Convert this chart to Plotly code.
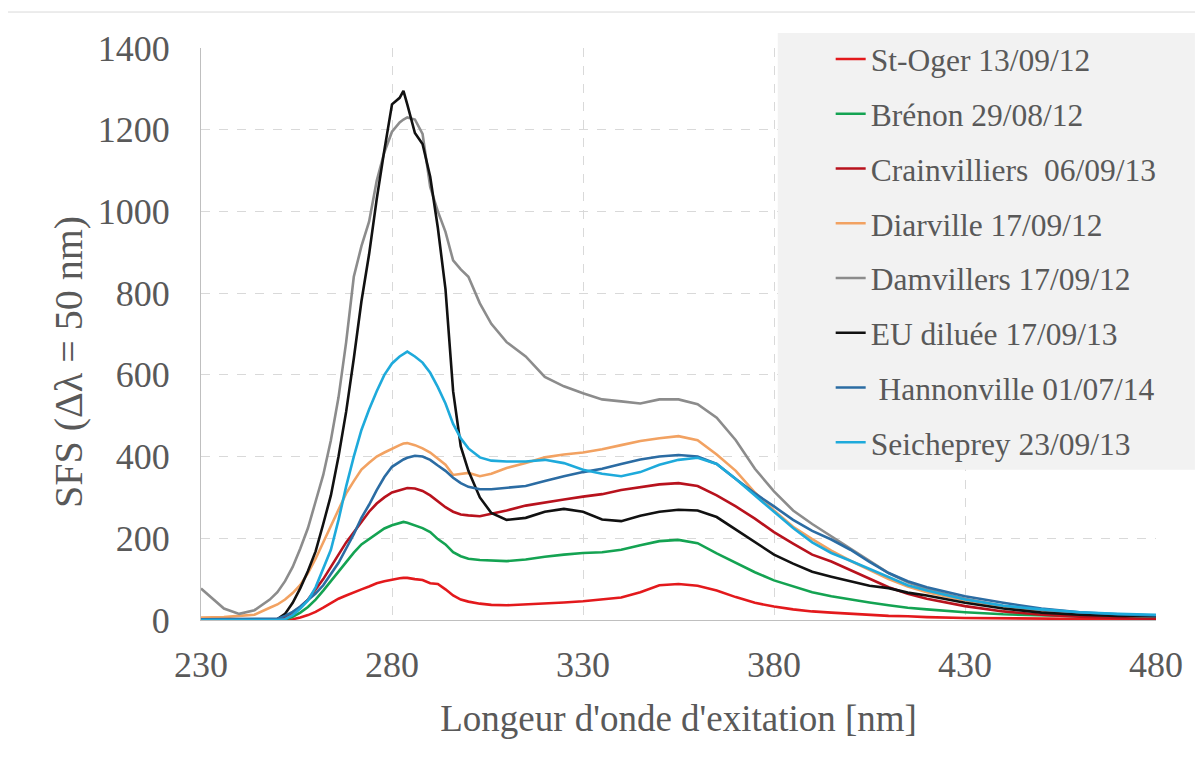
import plotly.graph_objects as go

wavelength = [230, 233, 236, 240, 244, 248, 250, 252, 254, 256, 258, 260, 262, 264, 266, 268,
              270, 272, 274, 276, 278, 280, 282, 283, 284, 286, 288, 290, 292, 294, 296, 298,
              300, 303, 306, 310, 315, 320, 325, 330, 335, 340, 345, 350, 355, 360, 365, 370,
              375, 380, 385, 390, 395, 400, 405, 410, 415, 420, 430, 440, 450, 460, 470, 480]

st_oger = [0, 0, 0, 0, 0, 0, 0, 0, 2, 6, 12, 20, 30, 42, 52, 60,
           68, 75, 82, 90, 95, 99, 102, 103, 103, 100, 98, 90, 88, 75, 60, 50,
           45, 40, 37, 36, 38, 40, 43, 46, 50, 55, 68, 85, 88, 84, 72, 56,
           42, 33, 26, 21, 18, 15, 13, 10, 9, 7, 5, 4, 3, 2, 2, 1]

brenon = [0, 0, 0, 0, 0, 0, 0, 1, 8, 18, 32, 50, 72, 95, 118, 140,
          165, 185, 198, 212, 224, 232, 238, 240, 238, 232, 225, 215, 198, 185, 166, 156,
          150, 147, 145, 144, 148, 155, 160, 164, 166, 172, 183, 193, 196, 188, 163, 140,
          117, 97, 82, 68, 58, 50, 43, 36, 30, 26, 19, 14, 11, 9, 7, 5]

crainvilliers = [0, 0, 0, 0, 0, 0, 1, 8, 18, 32, 50, 75, 100, 130, 160, 190,
                 215, 240, 265, 285, 300, 312, 318, 320, 323, 322, 316, 305, 290, 276, 265, 258,
                 256, 254, 260, 268, 280, 288, 295, 302, 308, 318, 325, 332, 335, 328, 305, 278,
                 248, 215, 187, 160, 143, 122, 103, 80, 64, 52, 34, 21, 13, 8, 5, 3]

diarville = [6, 6, 7, 10, 13, 30, 38, 50, 66, 86, 115, 150, 190, 230, 270, 310,
             340, 368, 385, 400, 410, 420, 428, 432, 433, 428, 420, 410, 395, 380, 355, 358,
             360, 352, 358, 372, 384, 398, 405, 410, 418, 428, 438, 445, 450, 440, 405, 365,
             312, 268, 228, 198, 170, 145, 122, 100, 82, 68, 48, 33, 23, 16, 11, 8]

damvillers = [77, 52, 28, 15, 24, 50, 68, 95, 130, 175, 225, 290, 355, 440, 545, 680,
              840, 915, 975, 1075, 1145, 1195, 1218, 1225, 1230, 1225, 1190, 1060, 1000, 950, 880, 858,
              840, 775, 725, 680, 645, 595, 572, 555, 540, 535, 530, 540, 540, 528, 495, 440,
              370, 315, 268, 235, 205, 175, 145, 115, 92, 75, 52, 35, 24, 16, 11, 8]

eu_diluee = [0, 0, 0, 0, 0, 0, 2, 15, 42, 78, 120, 168, 235, 305, 400, 510,
             640, 780, 895, 1030, 1150, 1262, 1278, 1295, 1262, 1192, 1165, 1085, 960, 810, 560, 425,
             365, 300, 262, 245, 250, 265, 272, 265, 246, 242, 255, 265, 270, 268, 252, 222,
             190, 160, 138, 118, 106, 95, 84, 78, 67, 60, 42, 28, 18, 13, 10, 9]

hannonville = [2, 2, 2, 2, 2, 2, 3, 10, 20, 33, 50, 65, 85, 112, 140, 175,
               210, 250, 282, 318, 350, 375, 388, 393, 397, 402, 400, 392, 378, 365, 348, 335,
               326, 320, 320, 324, 328, 340, 352, 362, 370, 382, 393, 400, 404, 400, 382, 345,
               310, 278, 245, 218, 197, 172, 142, 115, 95, 80, 58, 42, 28, 19, 14, 11]

seicheprey = [0, 0, 0, 0, 0, 0, 0, 2, 12, 28, 48, 80, 125, 172, 245, 327,
              400, 465, 515, 560, 600, 628, 645, 652, 657, 645, 630, 605, 570, 530, 480, 445,
              420, 398, 390, 388, 388, 392, 384, 368, 358, 352, 362, 380, 392, 397, 382, 345,
              305, 265, 225, 190, 164, 145, 125, 105, 85, 72, 50, 35, 26, 19, 15, 13]

series_names = ["St-Oger 13/09/12", "Brénon 29/08/12", "Crainvilliers  06/09/13",
                "Diarville 17/09/12", "Damvillers 17/09/12", "EU diluée 17/09/13",
                " Hannonville 01/07/14", "Seicheprey 23/09/13"]
series_values = [st_oger, brenon, crainvilliers, diarville, damvillers, eu_diluee,
                 hannonville, seicheprey]
series_colors = ["#e3191c", "#14a352", "#b8121d", "#f2a262", "#8c8c8c", "#111111",
                 "#2b6ca3", "#1eaadb"]

x_ticks = [230, 280, 330, 380, 430, 480]
y_ticks = [0, 200, 400, 600, 800, 1000, 1200, 1400]

FONT = "Liberation Serif, Times New Roman, serif"
TXT = "#595959"

fig = go.Figure()
for name, vals, col in zip(series_names, series_values, series_colors):
    fig.add_trace(go.Scatter(x=wavelength, y=vals, mode="lines", name=name,
                             legendgroup=name,
                             line=dict(color=col, width=2.6)))

# page body has an 8px margin; layout numbers below are in reference-image pixels
OFF = 8
W, H = 1187, 744
L, T = 201 - OFF, 48 - OFF
R = W - (1158 - OFF)
B = H - (620.5 - OFF)
pw, ph = W - L - R, H - T - B


def px_x(p):
    return (p - OFF - L) / pw


def px_y(p):
    return (H - B - (p - OFF)) / ph


fig.update_layout(
    width=W, height=H,
    margin=dict(l=L, r=R, t=T, b=B),
    paper_bgcolor="white", plot_bgcolor="white",
    font=dict(family=FONT, color=TXT, size=30),
    showlegend=True,
    legend=dict(x=px_x(832), y=px_y(32), xanchor="left", yanchor="top",
                bgcolor="rgba(0,0,0,0)", font=dict(family=FONT, size=31.5, color=TXT),
                tracegroupgap=10.8, traceorder="grouped", maxheight=700),
    shapes=[
        dict(type="rect", xref="paper", yref="paper", layer="above",
             x0=px_x(779), x1=px_x(1197), y0=px_y(470), y1=px_y(33),
             fillcolor="#f2f2f2", line=dict(width=0)),
        dict(type="rect", xref="paper", yref="paper", layer="below",
             x0=px_x(7), x1=px_x(1199), y0=px_y(790), y1=px_y(12),
             fillcolor="rgba(0,0,0,0)", line=dict(width=1, color="#d9d9d9")),
    ],
    annotations=[
        dict(text="SFS (Δλ = 50 nm)", xref="paper", yref="paper",
             x=px_x(68), y=px_y(362), xanchor="center", yanchor="middle",
             textangle=-90, showarrow=False,
             font=dict(size=40, family=FONT, color=TXT)),
    ],
)

fig.update_xaxes(range=[230, 480], tickvals=x_ticks, ticktext=[str(v) for v in x_ticks],
                 showgrid=True, gridcolor="#d9d9d9", griddash="dash", gridwidth=1,
                 showline=True, linecolor="#bfbfbf", linewidth=1, zeroline=False,
                 ticks="", ticklabelstandoff=13, tickfont=dict(size=36, family=FONT, color=TXT),
                 title=dict(text="Longeur d'onde d'exitation [nm]", standoff=20,
                            font=dict(size=37, family=FONT, color=TXT)))
fig.update_yaxes(range=[0, 1400], tickvals=y_ticks, ticktext=[str(v) for v in y_ticks],
                 showgrid=True, gridcolor="#d9d9d9", griddash="dash", gridwidth=1,
                 showline=True, linecolor="#bfbfbf", linewidth=1, zeroline=False,
                 ticks="", ticklabelstandoff=23, tickfont=dict(size=36, family=FONT, color=TXT))

fig.write_html("out.html")
